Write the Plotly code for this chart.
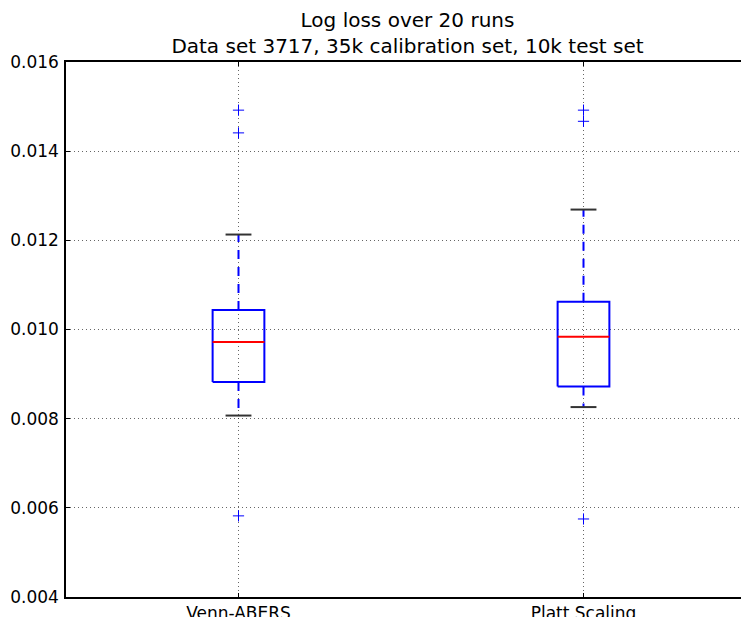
import plotly.graph_objects as go

# ---- data ----
labels = ["Venn-ABERS", "Platt Scaling"]
positions = [1, 2]
q1 = [0.00882, 0.00872]
median = [0.00972, 0.00984]
q3 = [0.01044, 0.01062]
lower_whisker = [0.00807, 0.00826]
upper_whisker = [0.01213, 0.01269]
outliers = [
    [0.01492, 0.01441, 0.00582],
    [0.01492, 0.01467, 0.00575],
]
y_ticks = [0.004, 0.006, 0.008, 0.010, 0.012, 0.014, 0.016]

BOX_W = 0.15
CAP_W = BOX_W / 2
BLUE = "#0000ff"

# page body has an 8px margin, so the figure is sized to the visible area
FIG_W, FIG_H = 741, 609
M_L, M_T, M_B = 58, 54, 20
PLOT_W = FIG_W - M_L

fig = go.Figure()

for i, p in enumerate(positions):
    lo, hi = p - BOX_W / 2, p + BOX_W / 2
    fig.add_trace(go.Scatter(
        x=[lo, hi, hi, lo, lo], y=[q1[i], q1[i], q3[i], q3[i], q1[i]],
        mode="lines", line=dict(color=BLUE, width=2),
        showlegend=False, hoverinfo="skip",
    ))
    fig.add_trace(go.Scatter(
        x=[lo, hi], y=[median[i], median[i]],
        mode="lines", line=dict(color="#ff0000", width=2),
        showlegend=False, hoverinfo="skip",
    ))
    fig.add_trace(go.Scatter(
        x=[p, p, None, p, p],
        y=[q3[i], upper_whisker[i], None, q1[i], lower_whisker[i]],
        mode="lines", line=dict(color=BLUE, width=2, dash="9px,8px"),
        showlegend=False, hoverinfo="skip",
    ))
    fig.add_trace(go.Scatter(
        x=[p - CAP_W / 2, p + CAP_W / 2, None, p - CAP_W / 2, p + CAP_W / 2],
        y=[upper_whisker[i], upper_whisker[i], None, lower_whisker[i], lower_whisker[i]],
        mode="lines", line=dict(color="#333333", width=2),
        showlegend=False, hoverinfo="skip",
    ))
    fig.add_trace(go.Scatter(
        x=[p] * len(outliers[i]), y=outliers[i],
        mode="markers",
        marker=dict(symbol="cross-thin", size=8, line=dict(color=BLUE, width=1)),
        showlegend=False, hoverinfo="skip",
    ))

grid = dict(showgrid=True, gridcolor="rgba(0,0,0,0.6)", griddash="1px,3px", gridwidth=1)

fig.update_layout(
    width=FIG_W, height=FIG_H,
    margin=dict(l=M_L, r=0, t=M_T, b=M_B, autoexpand=False),
    paper_bgcolor="white", plot_bgcolor="white",
    font=dict(family="DejaVu Sans", size=17, color="#000000"),
    title=dict(
        text="Log loss over 20 runs<br>Data set 3717, 35k calibration set, 10k test set",
        x=(M_L + PLOT_W / 2) / FIG_W, xanchor="center",
        yref="container", y=1 - 19 / FIG_H, yanchor="top",
        font=dict(family="DejaVu Sans", size=20),
        automargin=False,
    ),
    xaxis=dict(
        range=[0.5, 0.5 + PLOT_W / 345], tickvals=positions, ticktext=labels,
        showline=True, linecolor="black", linewidth=1.5, mirror="ticks",
        ticks="inside", ticklen=4, tickcolor="black", zeroline=False,
        automargin=False, **grid,
    ),
    yaxis=dict(
        range=[0.004, 0.016], tickvals=y_ticks,
        ticktext=[f"{v:.3f}" for v in y_ticks],
        showline=True, linecolor="black", linewidth=1.5, mirror=False,
        ticks="inside", ticklen=4, tickcolor="black", zeroline=False,
        automargin=False, ticklabelstandoff=2, **grid,
    ),
)

fig.write_html("out.html")
